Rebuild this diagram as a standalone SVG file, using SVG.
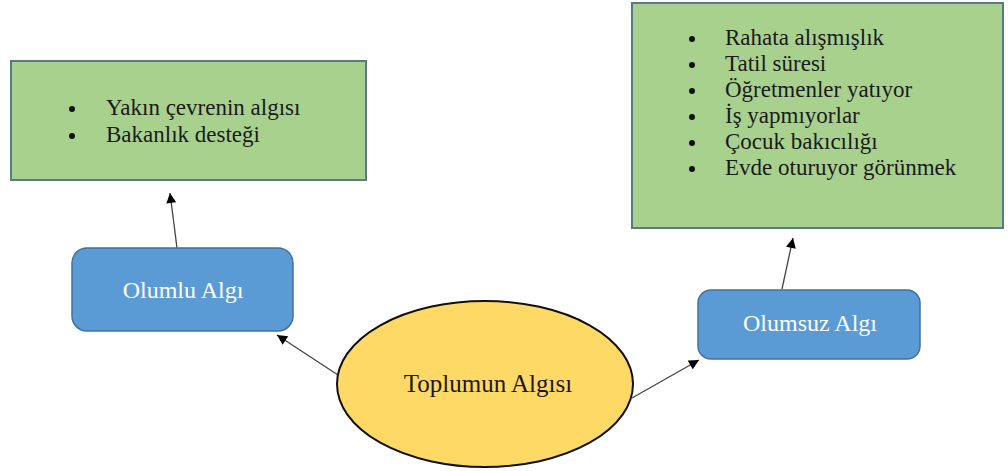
<svg xmlns="http://www.w3.org/2000/svg" width="1008" height="471" viewBox="0 0 1008 471">
<style>
.green{fill:#A9D18E;stroke:#5A7A8A;stroke-width:2}
.blue{fill:#5B9BD5;stroke:#41719C;stroke-width:1.5}
.ell{fill:#FFD966;stroke:#111;stroke-width:2}
text{font-family:'Liberation Serif','DejaVu Serif',serif}
.t{font-size:23px;fill:#1a1a1a}
.w{font-size:24px;fill:#ffffff;text-anchor:middle}
.c{font-size:25px;fill:#1a1a1a;text-anchor:middle}
.conn{stroke:#444;stroke-width:1.3;fill:none;marker-end:url(#ah)}
</style>
<defs>
<marker id="ah" viewBox="0 0 10 10" refX="10" refY="5" markerWidth="11" markerHeight="10" markerUnits="userSpaceOnUse" orient="auto">
<path d="M0,0 L10,5 L0,10 z" fill="#000"/>
</marker>
</defs>
<rect width="1008" height="471" fill="#ffffff"/>
<g id="connectors">
<line class="conn" x1="177" y1="248" x2="170" y2="193"/>
<line class="conn" x1="338" y1="375" x2="277" y2="335"/>
<line class="conn" x1="632" y1="398" x2="699" y2="360"/>
<line class="conn" x1="782" y1="289" x2="793" y2="238"/>
</g>
<g id="positive-list">
<rect class="green" x="11" y="61" width="355" height="119"/>
<circle cx="72" cy="109" r="3" fill="#111"/>
<text class="t" x="106" y="115">Yakın çevrenin algısı</text>
<circle cx="72" cy="136" r="3" fill="#111"/>
<text class="t" x="106" y="142">Bakanlık desteği</text>
</g>
<g id="negative-list">
<rect class="green" x="632" y="3" width="371" height="225"/>
<circle cx="692" cy="39" r="3" fill="#111"/>
<text class="t" x="725" y="45">Rahata alışmışlık</text>
<circle cx="692" cy="65" r="3" fill="#111"/>
<text class="t" x="725" y="71">Tatil süresi</text>
<circle cx="692" cy="91" r="3" fill="#111"/>
<text class="t" x="725" y="97">Öğretmenler yatıyor</text>
<circle cx="692" cy="117" r="3" fill="#111"/>
<text class="t" x="725" y="123">İş yapmıyorlar</text>
<circle cx="692" cy="143" r="3" fill="#111"/>
<text class="t" x="725" y="149">Çocuk bakıcılığı</text>
<circle cx="692" cy="169" r="3" fill="#111"/>
<text class="t" x="725" y="175">Evde oturuyor görünmek</text>
</g>
<g id="olumlu">
<rect class="blue" x="72" y="248" width="221" height="83" rx="15"/>
<text class="w" x="183" y="298">Olumlu Algı</text>
</g>
<g id="olumsuz">
<rect class="blue" x="698" y="290" width="222" height="69" rx="13"/>
<text class="w" x="810" y="331">Olumsuz Algı</text>
</g>
<g id="toplumun">
<ellipse class="ell" cx="485" cy="384" rx="148" ry="83"/>
<text class="c" x="488" y="392">Toplumun Algısı</text>
</g>
</svg>
